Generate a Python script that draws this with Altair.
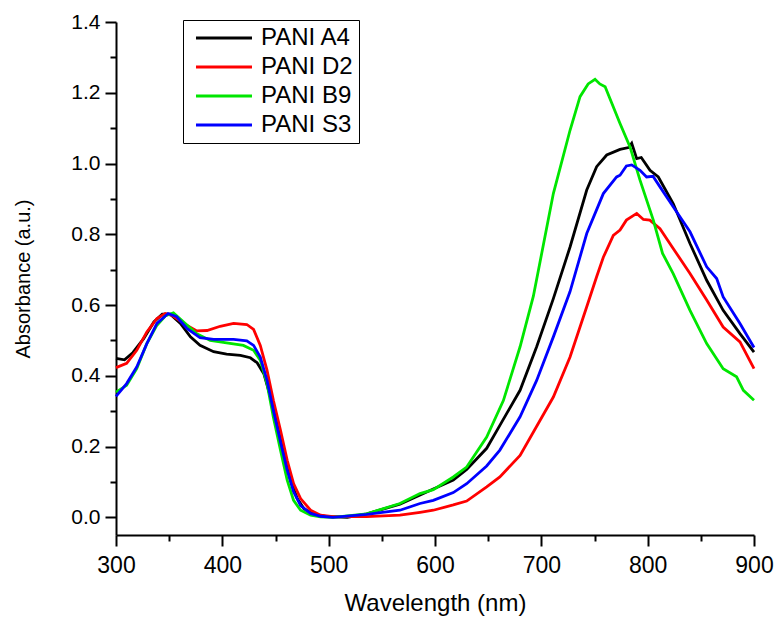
import altair as alt
import pandas as pd

series = ["PANI A4", "PANI D2", "PANI B9", "PANI S3"]
colors = ["#000000", "#ff0000", "#00e600", "#0000ff"]

wl_a4 = [300, 308, 316, 326, 335.6, 343.5, 351, 360.6, 370, 379, 391.8, 404, 417, 426.4, 432.7, 439,
         445.3, 451.6, 457.9, 464, 470.5, 476.8, 486, 498.7, 517.5, 535.8, 567, 598.4, 617.2, 629.8,
         648.6, 661, 680, 695.6, 711.3, 727, 742.7, 752, 761.5, 774, 782, 785, 789.7, 794, 802.2,
         810, 824, 839.8, 855.5, 871, 886.8, 900]
ab_a4 = [0.449, 0.445, 0.466, 0.505, 0.552, 0.574, 0.574, 0.548, 0.51, 0.486, 0.468, 0.461, 0.458,
         0.451, 0.437, 0.406, 0.34, 0.265, 0.18, 0.105, 0.053, 0.024, 0.008, 0.002, 0.0, 0.010,
         0.037, 0.08, 0.105, 0.135, 0.195, 0.26, 0.359, 0.482, 0.618, 0.764, 0.925, 0.991, 1.024,
         1.04, 1.045, 1.057, 1.014, 1.017, 0.981, 0.962, 0.887, 0.774, 0.67, 0.585, 0.519, 0.467]

wl_d2 = [300, 310, 319.5, 329, 338.5, 346.3, 352.6, 363.6, 376, 385.6, 398, 410.6, 423, 429.4, 435.7,
         442, 448, 454.7, 461, 467, 473.6, 483, 492.4, 504, 535.8, 567, 586, 598.4, 617.2, 629.8,
         648.6, 661, 680, 711.3, 727, 742.7, 752, 758.3, 767.7, 774, 780, 789.7, 796, 802, 811.6,
         824, 839.8, 855.5, 871, 886.8, 900]
ab_d2 = [0.423, 0.435, 0.472, 0.524, 0.562, 0.576, 0.571, 0.548, 0.527, 0.528, 0.54, 0.548, 0.545,
         0.531, 0.486, 0.416, 0.331, 0.246, 0.161, 0.095, 0.053, 0.02, 0.006, 0.002, 0.002, 0.006,
         0.014, 0.02, 0.035, 0.046, 0.086, 0.114, 0.175, 0.34, 0.453, 0.595, 0.68, 0.735, 0.797,
         0.812, 0.84, 0.859, 0.842, 0.84, 0.816, 0.76, 0.689, 0.614, 0.538, 0.496, 0.42]

wl_b9 = [300, 310, 319.5, 329, 338.5, 346.3, 354, 363.6, 376, 388.6, 404, 419.8, 429.4, 435.7, 442,
         448, 454.7, 461, 467, 473.6, 483, 492.4, 504, 535.8, 567, 585.9, 598.4, 617.2, 629.8,
         648.6, 664.3, 680, 692.5, 711.3, 727, 736.4, 744, 750.5, 755, 760, 774, 783.4, 792.8,
         805.3, 814, 824, 839.8, 855.5, 871, 883.6, 890, 900]
ab_b9 = [0.354, 0.373, 0.42, 0.491, 0.543, 0.569, 0.578, 0.552, 0.519, 0.5, 0.493, 0.486, 0.472,
         0.444, 0.378, 0.283, 0.19, 0.105, 0.048, 0.02, 0.006, 0.001, 0.0, 0.010, 0.039, 0.067,
         0.078, 0.114, 0.142, 0.227, 0.33, 0.482, 0.625, 0.915, 1.094, 1.189, 1.225, 1.238, 1.225,
         1.217, 1.113, 1.047, 0.953, 0.84, 0.746, 0.689, 0.585, 0.491, 0.42, 0.397, 0.359, 0.331]

wl_s3 = [300, 310, 319.5, 329, 338.5, 349, 357, 367, 379, 391.8, 410.6, 423, 429.4, 435.7, 442, 448,
         454.7, 461, 467, 473.6, 483, 492.4, 504, 535.8, 567, 585.9, 598.4, 617.2, 629.8, 648.6,
         661, 680, 695.6, 711.3, 727, 742.7, 758.3, 770.8, 774, 780, 785, 792.8, 799, 805, 811.6,
         824, 839.8, 855.5, 864.9, 871, 886.8, 900]
ab_s3 = [0.342, 0.378, 0.425, 0.491, 0.548, 0.576, 0.567, 0.533, 0.508, 0.503, 0.503, 0.499, 0.486,
         0.453, 0.387, 0.302, 0.213, 0.133, 0.072, 0.033, 0.011, 0.003, 0.0, 0.008, 0.02, 0.039,
         0.048, 0.07, 0.095, 0.145, 0.19, 0.284, 0.387, 0.51, 0.638, 0.802, 0.915, 0.962, 0.967,
         0.993, 0.996, 0.981, 0.962, 0.964, 0.934, 0.878, 0.807, 0.708, 0.675, 0.623, 0.548, 0.48]

x_major = list(range(300, 901, 100))
x_minor = list(range(350, 900, 100))
y_major = [round(i * 0.2, 1) for i in range(0, 8)]
y_minor = [round(0.1 + i * 0.2, 1) for i in range(0, 7)]

rows = []
for name, wl, ab in zip(series, [wl_a4, wl_d2, wl_b9, wl_s3], [ab_a4, ab_d2, ab_b9, ab_s3]):
    for w, a in zip(wl, ab):
        rows.append({"series": name, "wl": w, "abs": a})
df = pd.DataFrame(rows)

FONT = "Liberation Sans"
xscale = alt.Scale(domain=[300, 900], nice=False, zero=False)
yscale = alt.Scale(domain=[-0.05, 1.4], nice=False, zero=False)

main = alt.Chart(df).mark_line(strokeWidth=2.8).encode(
    x=alt.X("wl:Q", scale=xscale,
            axis=alt.Axis(values=x_major, title="Wavelength (nm)", orient="bottom",
                          tickSize=11, labelFlush=False,
                          labelFontSize=23, labelPadding=8, titleFontSize=24, titlePadding=14,
                          titleFontWeight="normal")),
    y=alt.Y("abs:Q", scale=yscale,
            axis=alt.Axis(values=y_major, title="Absorbance (a.u.)", format=".1f", orient="left",
                          tickSize=11, labelFlush=False,
                          labelFontSize=21, labelPadding=5, titleFontSize=20, titlePadding=37,
                          titleFontWeight="normal")),
    color=alt.Color("series:N",
                    scale=alt.Scale(domain=series, range=colors),
                    legend=alt.Legend(orient="none", legendX=67, legendY=-2, title=None,
                                      symbolType="M-0.91,0H9.27", symbolSize=121, symbolStrokeWidth=3,
                                      labelFontSize=24, labelFont=FONT, labelOffset=48,
                                      strokeColor="black", padding=6, rowPadding=5,
                                      fillColor="white")),
)

minor = alt.Chart(df).mark_line(opacity=0).encode(
    x=alt.X("wl:Q", scale=xscale,
            axis=alt.Axis(values=x_minor, title=None, orient="bottom", labels=False,
                          domain=False, tickSize=6)),
    y=alt.Y("abs:Q", scale=yscale,
            axis=alt.Axis(values=y_minor, title=None, orient="left", labels=False,
                          domain=False, tickSize=6)),
    detail="series:N",
)

chart = alt.layer(main, minor).resolve_axis(x="independent", y="independent").properties(
    width=638, height=513,
    padding={"left": 5, "top": 3, "right": 0, "bottom": 5},
).configure_view(stroke=None).configure_axis(
    grid=False, domainColor="black", domainWidth=2, tickColor="black", tickWidth=2,
    labelColor="black", titleColor="black", labelFont=FONT, titleFont=FONT,
)

chart.save("out.html", embed_options={"renderer": "svg", "actions": False})
